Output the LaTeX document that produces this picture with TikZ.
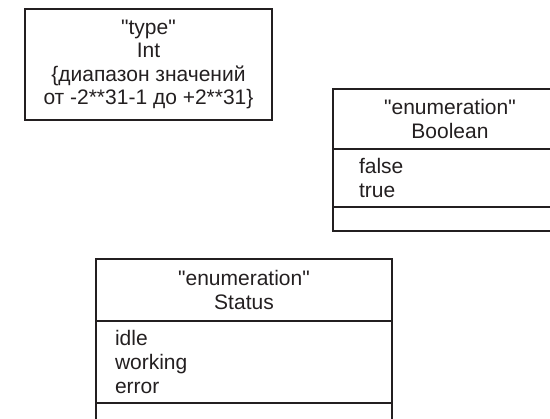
\documentclass[tikz,border=0pt]{standalone}
\usepackage{fontspec}
\setmainfont{Liberation Sans}[Ligatures=TeXOff]
\usetikzlibrary{positioning}
\definecolor{InkBlack}{RGB}{35,31,32}
\tikzset{
  typebox/.style={draw=InkBlack,line width=2.2pt,outer sep=0pt,inner sep=0pt,
    align=center,text=InkBlack,font=\fontsize{21}{23.5}\selectfont},
  titlepart/.style={draw=InkBlack,line width=2.2pt,outer sep=0pt,inner sep=0pt,
    align=center,text=InkBlack,font=\fontsize{21}{24}\selectfont},
  valuepart/.style={draw=InkBlack,line width=2.2pt,outer sep=0pt,inner ysep=0pt,
    align=left,text=InkBlack,font=\fontsize{21}{24}\selectfont},
  emptypart/.style={draw=InkBlack,line width=2.2pt,outer sep=0pt,inner sep=0pt}
}

\begin{document}
\begin{tikzpicture}[x=1pt,y=-1pt]
  \useasboundingbox (0,0) rectangle (550,419);
  \clip (0,0) rectangle (550,419);

  % primitive type
  \node[typebox,minimum width=247pt,minimum height=111pt] (inttype) at (148.5,64.5) {
    "type"\\
    Int\\
    \{диапазон значений\\
    от -2**31-1 до +2**31\}
  };

  % enumeration Boolean
  \node[titlepart,minimum width=234pt,minimum height=60pt,anchor=north west]
    (booltitle) at (333,89) {"enumeration"\\Boolean};
  \node[valuepart,text width=182pt,inner xsep=26pt,minimum height=58pt,
    below=0pt of booltitle] (boolvals) {false\\true};
  \node[emptypart,minimum width=234pt,minimum height=24pt,
    below=0pt of boolvals] (boolend) {};

  % enumeration Status
  \node[titlepart,minimum width=296pt,minimum height=62pt,anchor=north west]
    (stattitle) at (96,259) {"enumeration"\\Status};
  \node[valuepart,text width=258pt,inner xsep=19pt,minimum height=82pt,
    below=0pt of stattitle] (statvals) {idle\\working\\error};
  \node[emptypart,minimum width=296pt,minimum height=24pt,
    below=0pt of statvals] (statend) {};
\end{tikzpicture}
\end{document}
